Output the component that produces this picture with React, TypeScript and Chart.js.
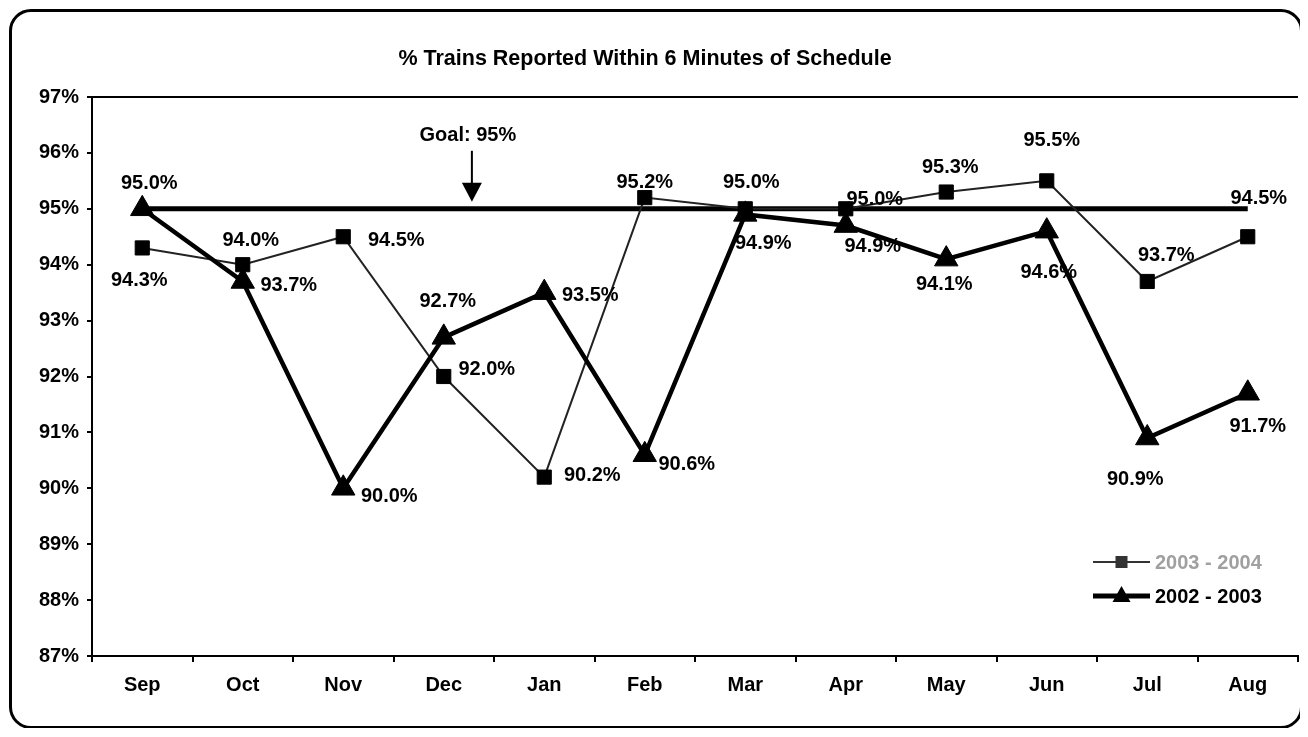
import React, { useEffect, useRef } from "react";
import { Chart, registerables } from "chart.js";

Chart.register(...registerables);

const FONT = "'Liberation Sans', Arial, sans-serif";

const titleText = "% Trains Reported Within 6 Minutes of Schedule";
const categories = ["Sep", "Oct", "Nov", "Dec", "Jan", "Feb", "Mar", "Apr", "May", "Jun", "Jul", "Aug"];
const yTicks = [87, 88, 89, 90, 91, 92, 93, 94, 95, 96, 97];

const seriesNameA = "2003 - 2004";
const valuesA = [94.3, 94.0, 94.5, 92.0, 90.2, 95.2, 95.0, 95.0, 95.3, 95.5, 93.7, 94.5];
const labelsA = ["94.3%", "94.0%", "94.5%", "92.0%", "90.2%", "95.2%", "95.0%", "95.0%", "95.3%", "95.5%", "93.7%", "94.5%"];

const seriesNameB = "2002 - 2003";
const valuesB = [95.0, 93.7, 90.0, 92.7, 93.5, 90.6, 94.9, 94.7, 94.1, 94.6, 90.9, 91.7];
const labelsB = ["95.0%", "93.7%", "90.0%", "92.7%", "93.5%", "90.6%", "94.9%", "94.9%", "94.1%", "94.6%", "90.9%", "91.7%"];

const goalValue = 95;
const goalValues = categories.map(() => goalValue);
const goalText = "Goal: 95%";

// label placement offsets (px) relative to each point
const offsetsA = [[-3, 33], [8, -24], [53, 4], [43, -7], [48, -2], [0, -15], [6, -26], [29, -9], [4, -25], [5, -40], [19, -26], [11, -38]];
const offsetsB = [[7, -25], [46, 4], [46, 8], [4, -36], [46, 3], [42, 10], [18, 29], [27, 21], [-2, 25], [2, 41], [-12, 41], [10, 33]];

const overlayPlugin = {
  id: "overlay",
  afterDatasetsDraw(chart: any) {
    const ctx = chart.ctx;
    const x = chart.scales.x;
    const y = chart.scales.y;
    const area = chart.chartArea;
    ctx.save();
    // title
    ctx.fillStyle = "#000";
    ctx.font = `bold 21.5px ${FONT}`;
    ctx.textAlign = "center";
    ctx.textBaseline = "middle";
    ctx.fillText(titleText, chart.width / 2 - 11, 47);

    // data labels
    ctx.font = `bold 20px ${FONT}`;
    const metaA = chart.getDatasetMeta(1);
    const metaB = chart.getDatasetMeta(2);
    metaA.data.forEach((pt: any, i: number) => {
      ctx.fillText(labelsA[i], pt.x + offsetsA[i][0], pt.y + offsetsA[i][1]);
    });
    metaB.data.forEach((pt: any, i: number) => {
      ctx.fillText(labelsB[i], pt.x + offsetsB[i][0], pt.y + offsetsB[i][1]);
    });

    // goal annotation
    const gy = y.getPixelForValue(goalValue);
    const ax = x.getPixelForValue(3) + 0.28 * (x.getPixelForValue(4) - x.getPixelForValue(3));
    ctx.fillText(goalText, ax - 4, gy - 73);
    ctx.strokeStyle = "#000";
    ctx.lineWidth = 2;
    ctx.beginPath();
    ctx.moveTo(ax, gy - 58);
    ctx.lineTo(ax, gy - 25);
    ctx.stroke();
    ctx.beginPath();
    ctx.moveTo(ax - 10, gy - 26);
    ctx.lineTo(ax + 10, gy - 26);
    ctx.lineTo(ax, gy - 7);
    ctx.closePath();
    ctx.fill();

    // legend
    const lx0 = area.right - 205;
    const lx1 = area.right - 148;
    const tx = area.right - 143;
    const y1 = area.bottom - 94;
    const y2 = area.bottom - 60;
    ctx.textAlign = "left";
    ctx.strokeStyle = "#333";
    ctx.lineWidth = 2;
    ctx.beginPath();
    ctx.moveTo(lx0, y1);
    ctx.lineTo(lx1, y1);
    ctx.stroke();
    ctx.fillStyle = "#333";
    ctx.fillRect((lx0 + lx1) / 2 - 6, y1 - 6, 12, 12);
    ctx.fillStyle = "#a0a0a0";
    ctx.fillText(seriesNameA, tx, y1 + 1);

    ctx.strokeStyle = "#000";
    ctx.fillStyle = "#000";
    ctx.lineWidth = 5;
    ctx.beginPath();
    ctx.moveTo(lx0, y2);
    ctx.lineTo(lx1, y2);
    ctx.stroke();
    const cx = (lx0 + lx1) / 2;
    ctx.beginPath();
    ctx.moveTo(cx, y2 - 10);
    ctx.lineTo(cx + 9, y2 + 6);
    ctx.lineTo(cx - 9, y2 + 6);
    ctx.closePath();
    ctx.fill();
    ctx.fillText(seriesNameB, tx, y2 + 1);
    ctx.restore();
  },
};

export default function App() {
  const ref = useRef<HTMLCanvasElement | null>(null);
  useEffect(() => {
    if (!ref.current) return;
    const chart = new Chart(ref.current, {
      type: "line",
      data: {
        labels: categories,
        datasets: [
          {
            label: "Goal",
            data: goalValues,
            borderColor: "#000",
            borderWidth: 5,
            pointRadius: 0,
            order: 3,
          },
          {
            label: seriesNameA,
            data: valuesA,
            borderColor: "#222",
            borderWidth: 2,
            pointStyle: "rect",
            pointRadius: 10,
            pointBackgroundColor: "#000",
            pointBorderColor: "#000",
            pointBorderWidth: 1,
            order: 2,
          },
          {
            label: seriesNameB,
            data: valuesB,
            borderColor: "#000",
            borderWidth: 4.5,
            pointStyle: "triangle",
            pointRadius: 13.5,
            pointBackgroundColor: "#000",
            pointBorderColor: "#000",
            pointBorderWidth: 1,
            order: 1,
          },
        ],
      },
      options: {
        animation: false,
        responsive: false,
        maintainAspectRatio: false,
        layout: { autoPadding: false, padding: { top: 85, right: 2, left: 0, bottom: 0 } },
        plugins: {
          legend: { display: false },
          title: { display: false },
          tooltip: { enabled: false },
        },
        scales: {
          x: {
            type: "category",
            offset: true,
            grid: {
              offset: true,
              drawOnChartArea: false,
              tickLength: 6,
              color: "#000",
              lineWidth: 2,
            },
            border: { display: true, color: "#000", width: 2 },
            ticks: {
              color: "#000",
              font: { family: FONT, size: 20, weight: "bold" },
              padding: 11,
              maxRotation: 0,
              autoSkip: false,
            },
            afterFit: (s: any) => {
              s.height = 70;
              s.paddingLeft = 0;
              s.paddingRight = 0;
            },
          },
          y: {
            min: yTicks[0],
            max: yTicks[yTicks.length - 1],
            afterBuildTicks: (s: any) => {
              s.ticks = yTicks.map((v) => ({ value: v }));
            },
            ticks: {
              color: "#000",
              font: { family: FONT, size: 20, weight: "bold" },
              padding: 8,
              callback: (v: any) => `${v}%`,
            },
            grid: {
              drawOnChartArea: true,
              color: (c: any) => (c.tick && c.tick.value === 97 ? "#000" : "rgba(0,0,0,0)"),
              tickColor: "#000",
              tickLength: 5,
              lineWidth: 2,
            },
            border: { display: true, color: "#000", width: 2 },
            afterFit: (s: any) => {
              s.width = 80;
            },
          },
        },
      },
      plugins: [overlayPlugin],
    });
    return () => chart.destroy();
  }, []);

  return (
    <div
      style={{
        position: "relative",
        left: 1,
        top: 1,
        width: 1294,
        height: 720,
        border: "3px solid #000",
        borderRadius: 22,
        boxSizing: "border-box",
        background: "#fff",
      }}
    >
      <canvas ref={ref} width={1288} height={714} style={{ display: "block", width: 1288, height: 714 }} />
    </div>
  );
}
